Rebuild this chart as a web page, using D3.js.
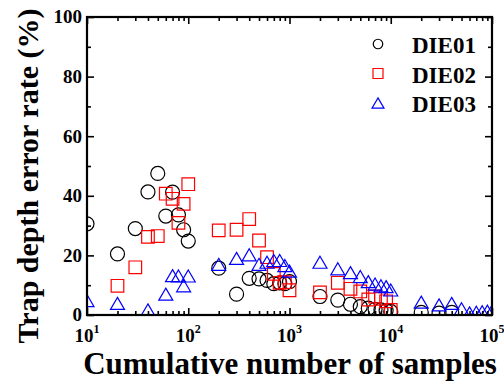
<!DOCTYPE html>
<html>
<head>
<meta charset="utf-8">
<script src="https://cdn.jsdelivr.net/npm/d3@7"></script>
<style>
  html, body { margin: 0; padding: 0; background: #fff; }
  svg { display: block; font-family: "Liberation Serif", "Times New Roman", serif; font-weight: bold; }
</style>
</head>
<body>
<svg id="chart" width="504" height="386"></svg>
<script>
// --- data (x = cumulative samples, y = error rate %) ---
const DIE01_X = [10,20,30,40,50,60,70,80,90,100,200,300,400,500,600,700,800,900,1000,
                 2000,3000,4000,5000,6000,7000,8000,9000,10000,20000,30000,40000];
const DIE01_Y = [30.6,20.5,29,41.3,47.5,33.2,41.2,33.6,28.6,24.8,15.7,7,12.3,12.1,11.6,10.5,10.8,10.5,11.2,
                 6.2,5,3.6,2.8,2.3,1.9,1.7,1.5,1.2,0.9,0.6,0.9];

const DIE02_X = [20,30,40,50,60,70,80,90,100,200,300,400,500,600,700,800,900,1000,
                 2000,3000,4000,5000,6000,7000,8000,9000,10000];
const DIE02_Y = [9.8,16,26.2,26.5,40.7,39,30.9,37.3,43.9,28.4,28.6,32.2,25,19.4,13.8,10.8,11,8.3,
                 7.6,10.8,8.8,7.9,5.2,6.2,5.4,4.6,1.7];

const DIE03_X = [10,20,40,60,70,80,90,100,200,300,400,500,600,700,800,900,1000,
                 2000,3000,4000,5000,6000,7000,8000,9000,10000,
                 20000,30000,40000,50000,60000,70000,80000,90000,100000];
const DIE03_Y = [4.8,3.9,1.7,7,13.2,13.1,9.8,13.1,17,19,20.2,17,17.7,18.3,18.3,16.6,14.7,
                 17.7,15.5,14.2,12.9,11.2,10.4,9.8,9.5,8.4,
                 4.3,3.4,3.9,2.1,0.7,0.9,1.1,1.3,1.3];

const SERIES_NAMES = ['DIE01', 'DIE02', 'DIE03'];
const Y_TICKS = [0, 20, 40, 60, 80, 100];
const X_DECADES = [1, 2, 3, 4, 5];

const SERIES = [
  { name: SERIES_NAMES[0], xs: DIE01_X, ys: DIE01_Y, shape: 'circle',   color: '#000000' },
  { name: SERIES_NAMES[1], xs: DIE02_X, ys: DIE02_Y, shape: 'square',   color: '#ff0000' },
  { name: SERIES_NAMES[2], xs: DIE03_X, ys: DIE03_Y, shape: 'triangle', color: '#0000ff' }
];

const L = 87, R = 492, T = 17, B = 315;
const svg = d3.select('#chart');

const x = d3.scaleLog().domain([10, 1e5]).range([L, R]);
const y = d3.scaleLinear().domain([0, 100]).range([B, T]);

// marker path generator, s = nominal size in px
function markerPath(shape, s){
  const h = s / 2;
  if (shape === 'circle'){
    return `M${h},0A${h},${h} 0 1,1 ${-h},0A${h},${h} 0 1,1 ${h},0Z`;
  }
  if (shape === 'square'){
    return `M${-h},${-h}H${h}V${h}H${-h}Z`;
  }
  const th = s * 0.86;
  return `M0,${-th/2}L${h},${th/2}L${-h},${th/2}Z`;
}
const MARKER_SIZE = { circle: 14, square: 12.6, triangle: 14 };

// --- clip for plot area ---
svg.append('defs').append('clipPath').attr('id', 'plot-clip')
  .append('rect').attr('x', L).attr('y', T).attr('width', R - L).attr('height', B - T);

// --- points ---
const pts = svg.append('g').attr('clip-path', 'url(#plot-clip)');
SERIES.forEach(s => {
  const data = s.xs.map((v, i) => [v, s.ys[i]]);
  pts.append('g').selectAll('path')
    .data(data)
    .join('path')
    .attr('transform', d => `translate(${x(d[0])},${y(d[1])})`)
    .attr('d', markerPath(s.shape, MARKER_SIZE[s.shape]))
    .attr('fill', 'none')
    .attr('stroke', s.color)
    .attr('stroke-width', 1.2);
});

// --- ticks ---
const majorX = X_DECADES.map(e => Math.pow(10, e));
const minorX = [];
X_DECADES.slice(0, -1).forEach(e => { for (let k = 2; k <= 9; k++) minorX.push(k * Math.pow(10, e)); });
const minorY = d3.range(10, 100, 20);

function tickAxis(axisFn, scale, values, len, tx, ty){
  const g = svg.append('g')
    .attr('transform', `translate(${tx},${ty})`)
    .call(axisFn(scale).tickValues(values).tickSize(-len).tickFormat(''));
  g.select('.domain').remove();
  g.selectAll('line').attr('stroke', '#000').attr('stroke-width', 1.6);
}
tickAxis(d3.axisBottom, x, majorX, 7, 0, B);
tickAxis(d3.axisBottom, x, minorX, 4, 0, B);
tickAxis(d3.axisTop, x, majorX, 7, 0, T);
tickAxis(d3.axisTop, x, minorX, 4, 0, T);
tickAxis(d3.axisLeft, y, Y_TICKS, 7, L, 0);
tickAxis(d3.axisLeft, y, minorY, 4, L, 0);
tickAxis(d3.axisRight, y, Y_TICKS, 7, R, 0);
tickAxis(d3.axisRight, y, minorY, 4, R, 0);

// --- frame ---
svg.append('rect')
  .attr('x', L).attr('y', T).attr('width', R - L).attr('height', B - T)
  .attr('fill', 'none').attr('stroke', '#000').attr('stroke-width', 2.2);

// --- tick labels ---
svg.append('g').selectAll('text')
  .data(Y_TICKS)
  .join('text')
  .attr('x', L - 5)
  .attr('y', d => y(d))
  .attr('dy', '0.34em')
  .attr('text-anchor', 'end')
  .attr('font-size', 19)
  .text(d => d);

const xl = svg.append('g').selectAll('text')
  .data(X_DECADES)
  .join('text')
  .attr('x', e => x(Math.pow(10, e)))
  .attr('y', 342)
  .attr('text-anchor', 'middle')
  .attr('font-size', 19);
xl.append('tspan').text('10');
xl.append('tspan').attr('font-size', 12).attr('dy', -9).text(e => e);

// --- axis titles ---
svg.append('text')
  .attr('x', 290)
  .attr('y', 374)
  .attr('text-anchor', 'middle')
  .attr('font-size', 31)
  .text('Cumulative number of samples');

svg.append('text')
  .attr('transform', 'translate(38,176) rotate(-90)')
  .attr('text-anchor', 'middle')
  .attr('font-size', 30)
  .text('Trap depth error rate (%)');

// --- legend ---
const LEGEND_SIZE = { circle: 9.5, square: 10, triangle: 12 };
const leg = svg.append('g').selectAll('g')
  .data(SERIES)
  .join('g')
  .attr('transform', (d, i) => `translate(378,${44 + i * 29.5})`);
leg.append('path')
  .attr('d', d => markerPath(d.shape, LEGEND_SIZE[d.shape]))
  .attr('fill', 'none')
  .attr('stroke', d => d.color)
  .attr('stroke-width', 1.2);
leg.append('text')
  .attr('x', 34)
  .attr('y', 9)
  .attr('font-size', 23)
  .text(d => d.name);
</script>
</body>
</html>
